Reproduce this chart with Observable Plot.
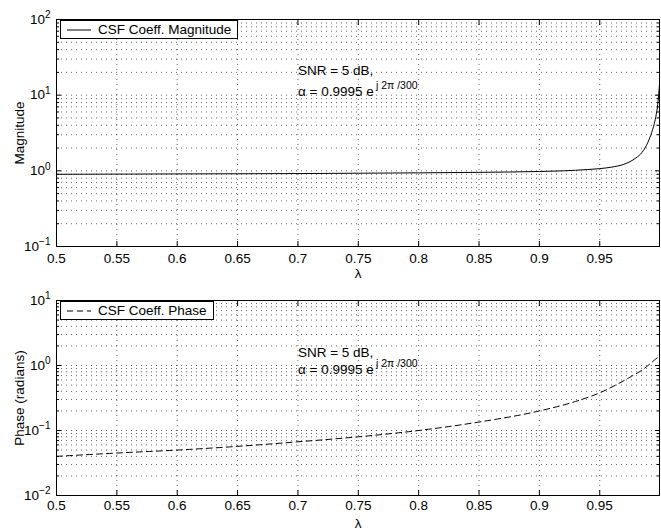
<!DOCTYPE html>
<html>
<head>
<meta charset="utf-8">
<script src="https://cdn.jsdelivr.net/npm/d3@7"></script>
<script src="https://cdn.jsdelivr.net/npm/@observablehq/plot@0.6"></script>
<style>
  html, body { margin: 0; padding: 0; background: #fff; }
  #wrap { position: relative; width: 661px; height: 531px; font-family: "Liberation Sans", Arial, Helvetica, sans-serif; }
  .panel { position: relative; }
  .legend { position: absolute; background: #fff; border: 1px solid #000; font-size: 13.5px; line-height: 15px; padding: 1px 6px 1px 5px; white-space: nowrap; display: flex; align-items: center; }
  .legend svg { margin-right: 6px; }
</style>
</head>
<body>
<div id="wrap"></div>
<script>
// ---- data ----
const lambdaMag = [0.5, 0.55, 0.6, 0.65, 0.7, 0.75, 0.8, 0.85, 0.9, 0.92, 0.94, 0.95, 0.96, 0.97, 0.975, 0.98, 0.985, 0.99, 0.993, 0.996, 0.998, 0.999, 0.9995];
const magnitude = [0.90, 0.905, 0.91, 0.915, 0.92, 0.93, 0.94, 0.955, 0.98, 1.0, 1.04, 1.07, 1.12, 1.22, 1.32, 1.48, 1.75, 2.4, 3.2, 4.8, 7.5, 11, 14];

const lambdaPhase = [0.5, 0.55, 0.6, 0.65, 0.7, 0.75, 0.8, 0.85, 0.9, 0.93, 0.95, 0.965, 0.975, 0.985, 0.99, 0.995, 0.9995];
const phase = [0.040, 0.045, 0.050, 0.057, 0.067, 0.080, 0.100, 0.135, 0.20, 0.28, 0.38, 0.52, 0.66, 0.85, 1.0, 1.2, 1.4];

const xTicks = [0.5, 0.55, 0.6, 0.65, 0.7, 0.75, 0.8, 0.85, 0.9, 0.95];
const yTicksTop = [0.1, 1, 10, 100];
const yTicksBottom = [0.01, 0.1, 1, 10];
const minorMultipliers = [2, 3, 4, 5, 6, 7, 8, 9];

const snrText = "SNR = 5 dB,";
const alphaText = "α = 0.9995 e";
const alphaSup = "j 2π /300";
const annotTop = [{x: 0.7, ySnr: 21, yAlpha: 11}];
const annotBottom = [{x: 0.7, ySnr: 1.6, yAlpha: 0.86}];

const legendTop = "CSF Coeff. Magnitude";
const legendBottom = "CSF Coeff. Phase";
// ---------------------------------------

const magData = lambdaMag.map((l, i) => ({l, v: magnitude[i]}));
const phaseData = lambdaPhase.map((l, i) => ({l, v: phase[i]}));

function minorTicks(decades) {
  const out = [];
  for (let i = 0; i < decades.length - 1; i++)
    for (const m of minorMultipliers) out.push(decades[i] * m);
  return out;
}

function expFormat(d) {
  return "10^" + Math.round(Math.log10(d));
}

function panel({data, dash, yTicks, yLabel, height, marginTop, marginBottom, annot, xLabelOffset, xTickPadding}) {
  const minor = minorTicks(yTicks);
  const font = "Liberation Sans, Arial, Helvetica, sans-serif";
  const svg = Plot.plot({
    width: 661,
    height,
    marginLeft: 56,
    marginRight: 2,
    marginTop,
    marginBottom,
    style: {fontFamily: font, fontSize: "13.5px", background: "#fff", color: "#000"},
    x: {domain: [0.5, 0.9995]},
    y: {type: "log", domain: [yTicks[0], yTicks[yTicks.length - 1]]},
    marks: [
      Plot.ruleX(xTicks.slice(1), {stroke: "#000", strokeOpacity: 0.6, strokeDasharray: "1,4"}),
      Plot.ruleY(minor.concat(yTicks.slice(1, -1)), {stroke: "#000", strokeOpacity: 0.6, strokeDasharray: "1,4"}),
      Plot.line(data, {x: "l", y: "v", stroke: "#000", strokeWidth: 1, strokeDasharray: dash, curve: "monotone-x"}),
      Plot.text(annot, {x: "x", y: "ySnr", text: () => snrText, textAnchor: "start", fontSize: 13.5}),
      Plot.text(annot, {x: "x", y: "yAlpha", text: () => alphaText, textAnchor: "start", fontSize: 13.5}),
      Plot.text(annot, {x: "x", y: "yAlpha", text: () => alphaSup, textAnchor: "start", fontSize: 10.5, dx: 78, dy: -6}),
      // tick labels
      Plot.axisX({ticks: xTicks, tickSize: 0, tickPadding: xTickPadding, tickFormat: d => String(+d.toFixed(2)), label: "λ", labelAnchor: "center", labelArrow: "none", labelOffset: xLabelOffset}),
      Plot.axisY({ticks: yTicks, tickSize: 0, tickPadding: 6, tickFormat: expFormat, label: yLabel, labelAnchor: "center", labelArrow: "none", labelOffset: 42}),
      // inward ticks
      Plot.axisX({anchor: "bottom", ticks: xTicks, tickSize: -5, tickFormat: () => "", label: null}),
      Plot.axisX({anchor: "top", ticks: xTicks, tickSize: -5, tickFormat: () => "", label: null}),
      Plot.axisY({anchor: "left", ticks: yTicks, tickSize: -5, tickFormat: () => "", label: null}),
      Plot.axisY({anchor: "right", ticks: yTicks, tickSize: -5, tickFormat: () => "", label: null}),
      Plot.axisY({anchor: "left", ticks: minor, tickSize: -3, tickFormat: () => "", label: null}),
      Plot.axisY({anchor: "right", ticks: minor, tickSize: -3, tickFormat: () => "", label: null}),
      Plot.frame({stroke: "#000", strokeWidth: 1})
    ]
  });
  // turn "10^k" labels into 10 with superscript exponent
  d3.select(svg).selectAll("text").each(function() {
    const t = d3.select(this);
    const targets = this.querySelector("tspan") ? t.selectAll("tspan") : t;
    targets.each(function() {
      const s = d3.select(this);
      const m = /^10\^(-?\d+)$/.exec(s.text());
      if (m) {
        s.text("10");
        s.append("tspan").attr("font-size", "10px").attr("dy", "-0.55em").text(m[1].replace("-", "−"));
      }
    });
  });
  return svg;
}

function legend(label, dash, left, top) {
  const div = document.createElement("div");
  div.className = "legend";
  div.style.left = left + "px";
  div.style.top = top + "px";
  div.innerHTML = `<svg width="26" height="10"><line x1="1" x2="25" y1="5" y2="5" stroke="#000" stroke-width="1" ${dash ? `stroke-dasharray="${dash}"` : ""}/></svg><span>${label}</span>`;
  return div;
}

const wrap = document.getElementById("wrap");

const p1 = document.createElement("div");
p1.className = "panel";
p1.appendChild(panel({data: magData, dash: null, yTicks: yTicksTop, yLabel: "Magnitude", height: 285, marginTop: 19, marginBottom: 39, annot: annotTop, xLabelOffset: 31, xTickPadding: 7}));
p1.appendChild(legend(legendTop, null, 60, 20));
wrap.appendChild(p1);

const p2 = document.createElement("div");
p2.className = "panel";
p2.appendChild(panel({data: phaseData, dash: "6,4", yTicks: yTicksBottom, yLabel: "Phase (radians)", height: 246, marginTop: 15, marginBottom: 36, annot: annotBottom, xLabelOffset: 32, xTickPadding: 5}));
p2.appendChild(legend(legendBottom, "6,4", 60, 16));
wrap.appendChild(p2);
</script>
</body>
</html>
